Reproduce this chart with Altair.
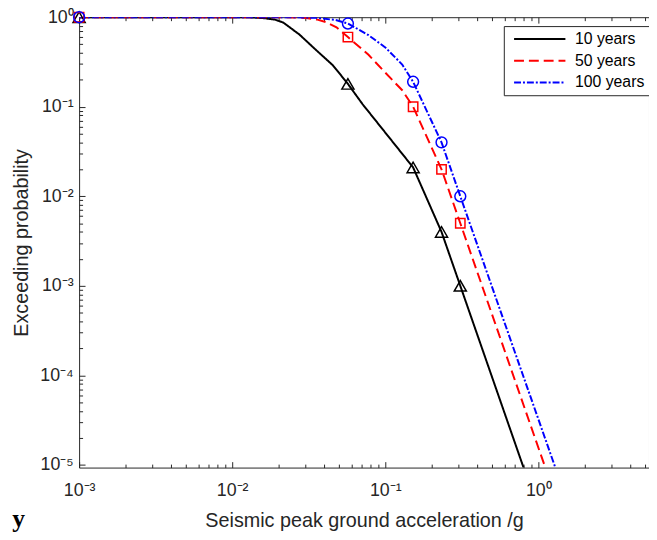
import altair as alt
import pandas as pd

# ---------------- data ----------------
series = ["10 years", "50 years", "100 years"]
colors = ["#000000", "#ff0000", "#0000ff"]
dashes = [[1, 0], [10, 5], [7, 2, 2, 2]]
shapes = ["triangle-up", "square", "circle"]
marker_sizes = [150, 90, 121]

# curves (PGA in g, exceeding probability)
x10 = [0.001, 0.01, 0.0135, 0.0162, 0.019, 0.0216, 0.0275, 0.0353, 0.0455, 0.057, 0.071, 0.152, 0.233, 0.309, 0.8]
y10 = [1.0, 1.0, 0.995, 0.975, 0.94, 0.87, 0.64, 0.43, 0.29, 0.18, 0.107, 0.021, 0.004, 0.001, 9.33e-6]

x50 = [0.001, 0.02, 0.0255, 0.0305, 0.036, 0.041, 0.048, 0.057, 0.0777, 0.1, 0.129, 0.152, 0.233, 0.309, 1.11]
y50 = [1.0, 1.0, 0.995, 0.98, 0.94, 0.88, 0.77, 0.6, 0.38, 0.24, 0.153, 0.1, 0.02, 0.005, 9.33e-6]

x100 = [0.001, 0.025, 0.0353, 0.0475, 0.057, 0.0777, 0.1, 0.129, 0.152, 0.233, 0.309, 1.29]
y100 = [1.0, 1.0, 0.985, 0.93, 0.85, 0.63, 0.46, 0.296, 0.19, 0.04, 0.01, 9.33e-6]

# markers
marker_x = [0.001, 0.057, 0.152, 0.233, 0.309]
m10 = [1.0, 0.18, 0.021, 0.004, 0.001]
m50 = [1.0, 0.6, 0.1, 0.02, 0.005]
m100 = [1.0, 0.85, 0.19, 0.04, 0.01]

x_major = [0.001, 0.01, 0.1, 1]
y_major = [1e-5, 1e-4, 1e-3, 1e-2, 1e-1, 1]
x_domain = [0.001, 5.28]
y_domain = [9.33e-6, 1.0]

x_minor = [d * k for d in [0.001, 0.01, 0.1, 1] for k in range(2, 10) if d * k <= x_domain[1]]
y_minor = [d * k for d in [1e-5, 1e-4, 1e-3, 1e-2, 1e-1] for k in range(2, 10)]

# ---------------- tables ----------------
rows = []
for name, xs, ys in zip(series, [x10, x50, x100], [y10, y50, y100]):
    for a, b in zip(xs, ys):
        rows.append({"series": name, "pga": a, "p": b})
lines_df = pd.DataFrame(rows)

marker_tables = [pd.DataFrame({"pga": marker_x, "p": ys}) for ys in [m10, m50, m100]]

FONT = "Liberation Sans"
AX = "#262626"
xscale = alt.Scale(type="log", domain=x_domain, nice=False)
yscale = alt.Scale(type="log", domain=y_domain, nice=False)

sup = ("'10' + (round(log(datum.value)/LN10) < 0 ? '\u207b' : '') + "
       "['\u2070','\u00b9','\u00b2','\u00b3','\u2074','\u2075','\u2076'][abs(round(log(datum.value)/LN10))]")

x_label_axis = alt.Axis(orient="bottom", values=x_major, ticks=False, tickSize=0, domain=False, grid=False,
                        labelExpr=sup, labelFont=FONT, labelFontSize=18, labelColor=AX, labelPadding=14,
                        labelFlush=False, labelOverlap=False,
                        title="Seismic peak ground acceleration /g", titleFont=FONT, titleFontSize=20,
                        titleFontWeight="normal", titleColor=AX, titlePadding=12)
y_label_axis = alt.Axis(orient="left", values=y_major, ticks=False, tickSize=0, domain=False, grid=False,
                        labelExpr=sup, labelFont=FONT, labelFontSize=18, labelColor=AX, labelPadding=6,
                        labelFlush=False, labelOverlap=False,
                        title="Exceeding probability", titleFont=FONT, titleFontSize=20,
                        titleFontWeight="normal", titleColor=AX, titlePadding=8)


def tick_axis(orient, values, size):
    return alt.Axis(orient=orient, values=values, tickSize=size, offset=-size, labels=False,
                    domain=False, grid=False, title=None, ticks=True, tickColor=AX, tickWidth=1)


legend = alt.Legend(orient="none", legendX=430, legendY=9, title=None, symbolType="M-1,0H19",
                    symbolSize=27, symbolStrokeWidth=2, labelFont=FONT, labelFontSize=16,
                    labelColor="black", strokeColor=AX, fillColor="white", padding=5,
                    rowPadding=6, labelOffset=51, cornerRadius=0)

lines = alt.Chart(lines_df).mark_line(strokeWidth=2, clip=True).encode(
    x=alt.X("pga:Q", scale=xscale, axis=x_label_axis),
    y=alt.Y("p:Q", scale=yscale, axis=y_label_axis),
    color=alt.Color("series:N", scale=alt.Scale(domain=series, range=colors), sort=series, legend=legend),
    strokeDash=alt.StrokeDash("series:N", scale=alt.Scale(domain=series, range=dashes), sort=series,
                              legend=legend),
)

x_axes = [tick_axis("bottom", x_major, 6), tick_axis("bottom", x_minor, 3.5), tick_axis("top", x_major, 6)]
y_axes = [tick_axis("left", y_major, 6), tick_axis("left", y_minor, 3.5), None]

marker_layers = []
for df, col, shp, sz, xa, ya in zip(marker_tables, colors, shapes, marker_sizes, x_axes, y_axes):
    marker_layers.append(
        alt.Chart(df).mark_point(filled=False, strokeWidth=1.5, color=col, shape=shp, size=sz, opacity=1).encode(
            x=alt.X("pga:Q", scale=xscale, axis=xa),
            y=alt.Y("p:Q", scale=yscale, axis=ya),
        )
    )

top_minor = alt.Chart(marker_tables[0]).mark_point(opacity=0).encode(
    x=alt.X("pga:Q", scale=xscale, axis=tick_axis("top", x_minor, 3.5)),
    y=alt.Y("p:Q", scale=yscale, axis=None),
)

chart = alt.layer(lines, *marker_layers, top_minor).resolve_axis(
    x="independent", y="independent"
).properties(
    width=577, height=456,
    autosize=alt.AutoSizeParams(type="none"),
    padding={"left": 72, "top": 6, "right": 0, "bottom": 70},
    title=alt.TitleParams(text="y", orient="bottom", anchor="start", frame="bounds",
                          font="Liberation Serif", fontSize=26, fontWeight="bold", color="black",
                          baseline="alphabetic", dx=0, dy=-8),
).configure_view(stroke=AX, strokeWidth=1)

chart.save("out.html", embed_options={"renderer": "svg", "actions": False})
